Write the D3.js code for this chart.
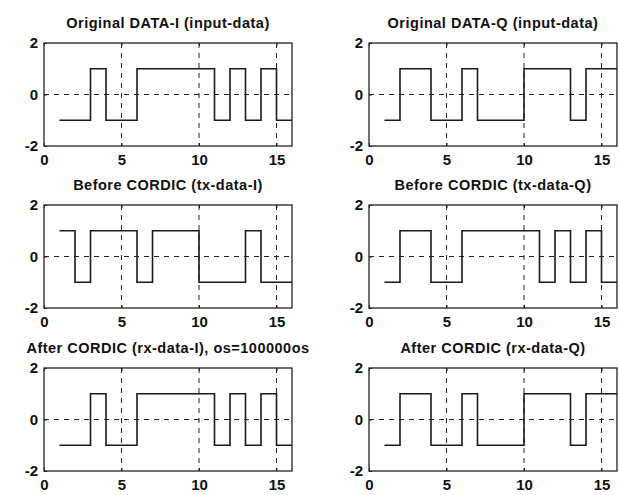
<!DOCTYPE html>
<html>
<head>
<meta charset="utf-8">
<script src="https://cdn.jsdelivr.net/npm/d3@7"></script>
<style>
  body { margin: 0; background: #fff; }
  text { font-family: "Liberation Sans", Arial, sans-serif; font-weight: bold; fill: #111; }
</style>
</head>
<body>
<svg id="viz" width="619" height="495"></svg>
<script>
// sample index 1..16, values of each stream
var samples = [1, 2, 3, 4, 5, 6, 7, 8, 9, 10, 11, 12, 13, 14, 15, 16];
var dataI   = [-1, -1, 1, -1, -1, 1, 1, 1, 1, 1, -1, 1, -1, 1, -1, -1];
var dataQ   = [-1, 1, 1, -1, -1, 1, -1, -1, -1, 1, 1, 1, -1, 1, 1, 1];
var txI     = [1, -1, 1, 1, 1, -1, 1, 1, 1, -1, -1, -1, 1, -1, -1, -1];
var txQ     = [-1, 1, 1, -1, -1, 1, 1, 1, 1, 1, -1, 1, -1, 1, -1, -1];
var rxI     = [-1, -1, 1, -1, -1, 1, 1, 1, 1, 1, -1, 1, -1, 1, -1, -1];
var rxQ     = [-1, 1, 1, -1, -1, 1, -1, -1, -1, 1, 1, 1, -1, 1, 1, 1];

var titles = [
  'Original DATA-I (input-data)', 'Original DATA-Q (input-data)',
  'Before CORDIC (tx-data-I)', 'Before CORDIC (tx-data-Q)',
  'After CORDIC (rx-data-I), os=100000os', 'After CORDIC (rx-data-Q)'
];
var series = [dataI, dataQ, txI, txQ, rxI, rxQ];
var xTicks = [0, 5, 10, 15];
var yTicks = [-2, 0, 2];

var svg = d3.select('#viz');
var colX = [44, 369];
var rowY = [43, 205, 368];
var w = 248, h = 103;

series.forEach(function (vals, k) {
  var left = colX[k % 2], top = rowY[Math.floor(k / 2)];
  var g = svg.append('g').attr('transform', 'translate(' + left + ',' + top + ')');

  var x = d3.scaleLinear().domain([0, 16]).range([0, w]);
  var y = d3.scaleLinear().domain([-2, 2]).range([h, 0]);

  // grid (dashed)
  g.selectAll('.gx').data(xTicks.filter(function (t) { return t > 0; })).enter()
    .append('line')
    .attr('x1', function (d) { return x(d); }).attr('x2', function (d) { return x(d); })
    .attr('y1', 0).attr('y2', h)
    .attr('stroke', '#222').attr('stroke-width', 1).attr('stroke-dasharray', '5,5');
  g.append('line')
    .attr('x1', 0).attr('x2', w).attr('y1', y(0)).attr('y2', y(0))
    .attr('stroke', '#222').attr('stroke-width', 1).attr('stroke-dasharray', '5,5');

  // axes box
  g.append('rect').attr('width', w).attr('height', h)
    .attr('fill', 'none').attr('stroke', '#222').attr('stroke-width', 1.3);

  var ax = d3.axisBottom(x).tickValues(xTicks).tickSize(-3).tickPadding(8);
  g.append('g').attr('transform', 'translate(0,' + h + ')').call(ax)
    .call(function (s) { s.select('.domain').remove(); s.selectAll('line').attr('stroke', '#222'); })
    .selectAll('text').style('font-size', '15px').attr('fill', '#111');
  g.append('g')
    .call(d3.axisTop(x).tickValues(xTicks).tickSize(-3).tickFormat(''))
    .call(function (s) { s.select('.domain').remove(); s.selectAll('line').attr('stroke', '#222'); });

  // plain hyphen for negatives, like the original
  var ay = d3.axisLeft(y).tickValues(yTicks).tickSize(-3).tickPadding(6)
    .tickFormat(function (d) { return String(d); });
  g.append('g').call(ay)
    .call(function (s) { s.select('.domain').remove(); s.selectAll('line').attr('stroke', '#222'); })
    .selectAll('text').style('font-size', '15px').attr('fill', '#111');

  // stairs
  var pts = vals.map(function (v, i) { return [samples[i], v]; });
  var line = d3.line()
    .x(function (d) { return x(d[0]); })
    .y(function (d) { return y(d[1]); })
    .curve(d3.curveStepAfter);
  g.append('path').datum(pts).attr('d', line)
    .attr('fill', 'none').attr('stroke', '#1a1a1a').attr('stroke-width', 1.6);

  g.append('text').attr('x', w / 2).attr('y', -15)
    .attr('text-anchor', 'middle').style('font-size', '14.5px')
    .style('letter-spacing', '0.5px')
    .text(titles[k]);
});
</script>
</body>
</html>
